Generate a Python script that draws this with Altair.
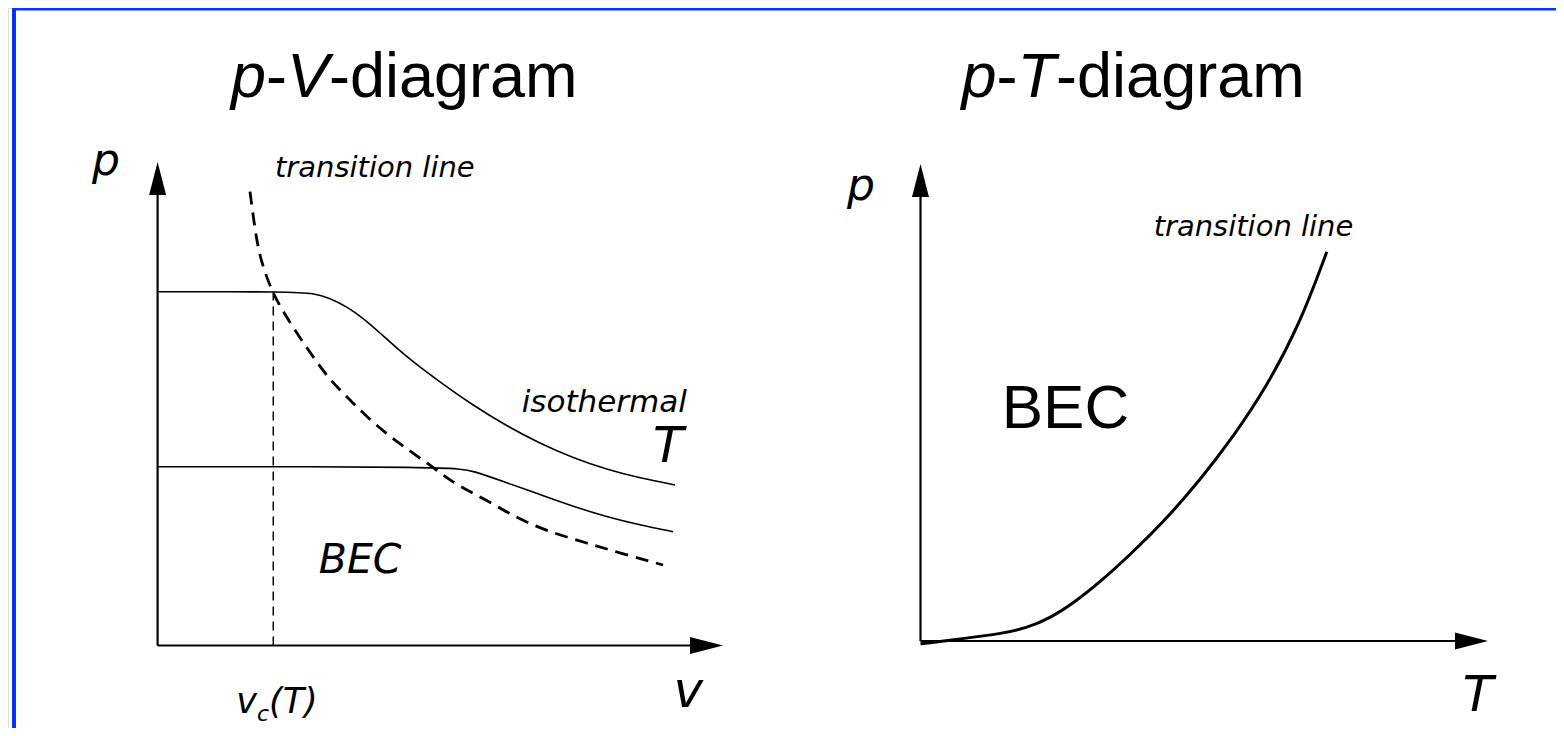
import altair as alt
import pandas as pd

# ---------------- p-V diagram (v and p in arbitrary units; axis arrow tips at 10) -------------
iso_hi_v = [0.0, 2.395, 2.748, 3.049, 3.345, 3.633, 3.934, 4.229, 4.517, 4.995,
            5.584, 6.174, 6.763, 7.352, 7.943, 8.532, 9.151]
iso_hi_p = [7.318, 7.318, 7.284, 7.187, 7.007, 6.774, 6.463, 6.153, 5.870, 5.450,
            4.964, 4.540, 4.178, 3.878, 3.640, 3.464, 3.320]
iso_lo_v = [0.0, 5.225, 5.584, 6.174, 6.763, 7.352, 7.943, 8.532, 9.116]
iso_lo_p = [3.698, 3.698, 3.613, 3.365, 3.123, 2.875, 2.662, 2.492, 2.354]
trans_v = [1.634, 1.723, 1.811, 1.988, 2.165, 2.460, 2.748, 3.049, 3.345, 3.698,
           4.110, 4.517, 4.936, 5.225, 5.821, 6.410, 6.993, 7.589, 8.178, 8.939]
trans_p = [9.386, 8.594, 8.015, 7.421, 7.007, 6.463, 5.973, 5.491, 5.146, 4.732,
           4.319, 3.981, 3.630, 3.361, 3.009, 2.596, 2.327, 2.120, 1.913, 1.665]
v_c = 2.046

# ---------------- p-T diagram ----------------
pt_T = [0.0, 0.81, 1.40, 1.87, 2.28, 2.69, 3.17, 3.75, 4.34, 4.93, 5.51, 6.10, 6.69, 7.16]
pt_p = [-0.06, 0.06, 0.15, 0.27, 0.48, 0.79, 1.24, 1.87, 2.57, 3.38, 4.28, 5.33, 6.66, 8.16]

# annotation texts: (text, x, y, font size)
left_oblique = [("p", -1.16, 9.73, 44), ("transition line", 2.076, 9.69, 29),
                ("isothermal", 6.44, 4.836, 31), ("T", 8.762, 3.80, 50),
                ("BEC", 2.851, 1.50, 41), ("v", 9.124, -1.278, 50),
                ("v", 1.390, -1.386, 35), ("c", 1.758, -1.56, 22), ("(T)", 1.970, -1.386, 35)]
right_oblique = [("p", -1.295, 9.245, 44), ("transition line", 4.108, 8.50, 29),
                 ("T", 9.556, -1.468, 50)]
right_plain = [("BEC", 1.431, 4.459, 62)]

TITLE_FS = 63
EM = {"p": 0.556, "-": 0.333, "V": 0.667, "T": 0.611}

W, H = 1548, 720
LX = alt.Scale(domain=[0, 10], range=[149.6, 715.0])
LY = alt.Scale(domain=[0, 10], range=[637.5, 154.0])
RX = alt.Scale(domain=[0, 10], range=[912.5, 1480.0])
RY = alt.Scale(domain=[0, 10], range=[633.0, 156.0])
L_PPU = (715.0 - 149.6) / 10
R_PPU = (1480.0 - 912.5) / 10

UP = "M0,0L0.515,2L-0.515,2Z"
RIGHT = "M0,0L-2,-0.515L-2,0.515Z"


def title_rows(x0, y0, sym, ppu):
    parts = [("p", True), ("-", False), (sym, True), ("-diagram", False)]
    rows, x = [], x0
    for t, it in parts:
        rows.append({"t": t, "x": x, "y": y0, "fs": TITLE_FS, "it": it})
        if t in EM:
            x += EM[t] * TITLE_FS / ppu
    return rows


def txt_df(items):
    return pd.DataFrame([{"t": t, "x": x, "y": y, "fs": fs} for t, x, y, fs in items])


def enc(sx, sy, xf="x", yf="y"):
    return dict(x=alt.X(f"{xf}:Q", scale=sx, axis=None),
                y=alt.Y(f"{yf}:Q", scale=sy, axis=None))


def text_layer(df, sx, sy, font, style):
    return alt.Chart(df).mark_text(font=font, fontStyle=style, align="left",
                                   baseline="alphabetic", color="black").encode(
        text="t:N", size=alt.Size("fs:Q", scale=None, legend=None), **enc(sx, sy))


layers = []

# ---- left panel ----
iso = pd.DataFrame(
    [{"x": a, "y": b, "c": "hi", "i": i} for i, (a, b) in enumerate(zip(iso_hi_v, iso_hi_p))]
    + [{"x": a, "y": b, "c": "lo", "i": i} for i, (a, b) in enumerate(zip(iso_lo_v, iso_lo_p))])
layers.append(alt.Chart(iso).mark_line(interpolate="basis", color="black", strokeWidth=1.6)
              .encode(detail="c:N", **enc(LX, LY)))
tr = pd.DataFrame({"x": trans_v, "y": trans_p})
layers.append(alt.Chart(tr).mark_line(interpolate="basis", color="black", strokeWidth=2.8,
                                      strokeDash=[13, 8]).encode(**enc(LX, LY)))
vl = pd.DataFrame({"x": [v_c], "y": [0.0], "y2": [iso_hi_p[0]]})
layers.append(alt.Chart(vl).mark_rule(color="black", strokeWidth=1.5, strokeDash=[9, 6])
              .encode(y2="y2:Q", **enc(LX, LY)))
lax = pd.DataFrame({"x": [0, 0], "y": [0, 0], "x2": [9.5, 0], "y2": [0, 9.4]})
layers.append(alt.Chart(lax).mark_rule(color="black", strokeWidth=2.2)
              .encode(x2="x2:Q", y2="y2:Q", **enc(LX, LY)))
larr = pd.DataFrame({"x": [10, 0], "y": [0, 10], "d": ["right", "up"]})
arrow_shape = alt.Shape("d:N", scale=alt.Scale(domain=["up", "right"], range=[UP, RIGHT]), legend=None)
layers.append(alt.Chart(larr).mark_point(filled=True, color="black", opacity=1, size=1089,
                                         strokeWidth=0).encode(shape=arrow_shape, **enc(LX, LY)))
layers.append(text_layer(txt_df(left_oblique), LX, LY, "DejaVu Sans", "italic"))
lt = pd.DataFrame(title_rows(1.298, 11.345, "V", L_PPU))
layers.append(text_layer(lt[lt.it].drop(columns="it"), LX, LY, "Liberation Sans", "italic"))
layers.append(text_layer(lt[~lt.it].drop(columns="it"), LX, LY, "Liberation Sans", "normal"))

# ---- right panel ----
pt = pd.DataFrame({"x": pt_T, "y": pt_p})
layers.append(alt.Chart(pt).mark_line(interpolate="basis", color="black", strokeWidth=3)
              .encode(**enc(RX, RY)))
rax = pd.DataFrame({"x": [0, 0], "y": [0, 0], "x2": [9.5, 0], "y2": [0, 9.4]})
layers.append(alt.Chart(rax).mark_rule(color="black", strokeWidth=2.2)
              .encode(x2="x2:Q", y2="y2:Q", **enc(RX, RY)))
rarr = pd.DataFrame({"x": [10, 0], "y": [0, 10], "d": ["right", "up"]})
layers.append(alt.Chart(rarr).mark_point(filled=True, color="black", opacity=1, size=1089,
                                         strokeWidth=0).encode(shape=arrow_shape, **enc(RX, RY)))
layers.append(text_layer(txt_df(right_oblique), RX, RY, "DejaVu Sans", "italic"))
layers.append(text_layer(txt_df(right_plain), RX, RY, "Liberation Sans", "normal"))
rt = pd.DataFrame(title_rows(0.724, 11.405, "T", R_PPU))
layers.append(text_layer(rt[rt.it].drop(columns="it"), RX, RY, "Liberation Sans", "italic"))
layers.append(text_layer(rt[~rt.it].drop(columns="it"), RX, RY, "Liberation Sans", "normal"))

# ---- blue frame (top and left edges) ----
dummy = pd.DataFrame({"a": [0]})
layers.append(alt.Chart(dummy).mark_rule(color="#0433FF", strokeWidth=2.6)
              .encode(x=alt.value(4), x2=alt.value(W), y=alt.value(1.3)))
layers.append(alt.Chart(dummy).mark_rule(color="#0433FF", strokeWidth=4)
              .encode(x=alt.value(6), y=alt.value(0), y2=alt.value(H)))

chart = alt.layer(*layers).resolve_scale(x="independent", y="independent").properties(
    width=W, height=H, autosize=alt.AutoSizeParams(type="none"), padding=0
).configure_view(stroke=None).configure(background="white")

chart.save("out.html", embed_options={"renderer": "svg", "actions": False})
